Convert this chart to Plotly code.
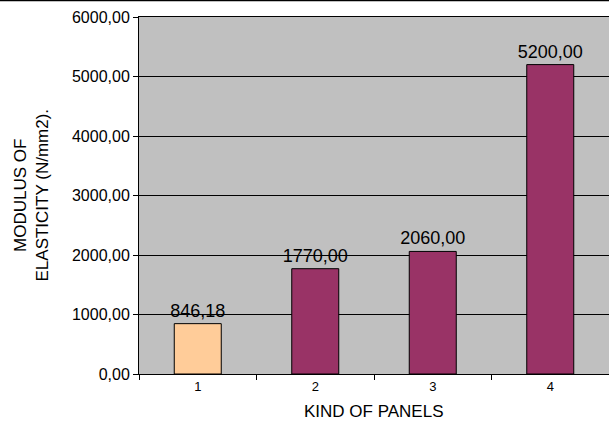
import plotly.graph_objects as go

# Panel types and their measured modulus of elasticity (N/mm2)
panels = ["1", "2", "3", "4"]
modulus = [846.18, 1770.00, 2060.00, 5200.00]
bar_colors = ["#FFCC99", "#993366", "#993366", "#993366"]
y_ticks = [0, 1000, 2000, 3000, 4000, 5000, 6000]

W, H = 609, 425
L, R, T, B = 139, 0, 17, 51
plot_w = W - L - R
plot_h = H - T - B

fig = go.Figure(
    go.Bar(
        x=panels,
        y=modulus,
        width=0.4,
        marker=dict(color=bar_colors, line=dict(color="#000000", width=1)),
        texttemplate="%{y:.2f}",
        textposition="outside",
        constraintext="none",
        textfont=dict(family="Liberation Sans, Arial, sans-serif", size=18, color="#000000"),
        cliponaxis=False,
    )
)

fig.update_layout(
    width=W,
    height=H,
    margin=dict(l=L, r=R, t=T, b=B),
    paper_bgcolor="#FFFFFF",
    plot_bgcolor="#C0C0C0",
    separators=",.",
    showlegend=False,
    font=dict(family="Liberation Sans, Arial, sans-serif", size=14, color="#000000"),
    bargap=0.6,
)

fig.update_xaxes(
    type="category",
    showgrid=False,
    showline=True,
    linecolor="#000000",
    linewidth=1,
    mirror=True,
    ticks="outside",
    tickson="boundaries",
    ticklen=5,
    tickcolor="#000000",
    tickfont=dict(size=13),
)

fig.update_yaxes(
    range=[0, 6000],
    tickvals=y_ticks,
    tickformat=".2f",
    showgrid=True,
    gridcolor="#000000",
    gridwidth=1,
    showline=True,
    linecolor="#000000",
    linewidth=1,
    ticks="outside",
    ticklen=5,
    tickcolor="#000000",
    tickfont=dict(size=16),
    zeroline=False,
)

# Axis titles
fig.add_annotation(
    text="MODULUS OF<br>ELASTICITY (N/mm2).",
    xref="paper", yref="paper",
    x=(31 - L) / plot_w, y=0.5,
    xanchor="center", yanchor="middle",
    textangle=-90,
    showarrow=False,
    font=dict(size=17),
)
fig.add_annotation(
    text="KIND OF PANELS",
    xref="paper", yref="paper",
    x=0.5, y=(T + plot_h - 411) / plot_h,
    xanchor="center", yanchor="middle",
    showarrow=False,
    font=dict(size=17),
)

# Frame line along the top edge of the chart
fig.add_shape(
    type="line",
    xref="paper", yref="paper",
    x0=-L / plot_w, x1=1.0,
    y0=1 + (T - 0.5) / plot_h, y1=1 + (T - 0.5) / plot_h,
    line=dict(color="#000000", width=1.5),
)

fig.write_html("out.html")
